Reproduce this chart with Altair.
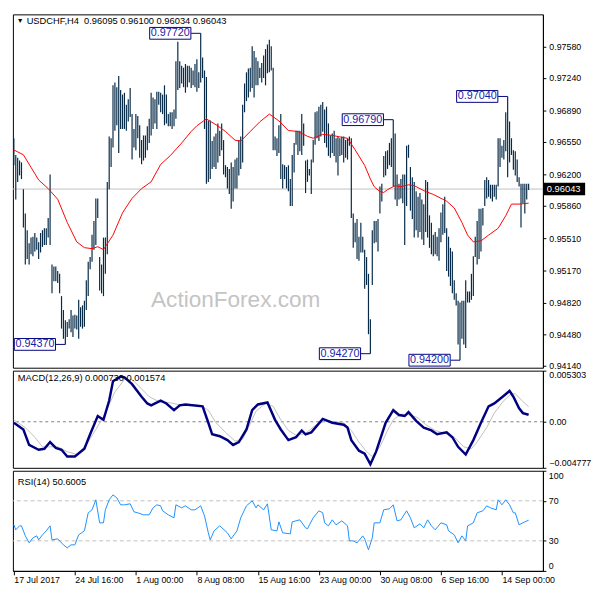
import altair as alt
import pandas as pd

# ---------------- data ----------------
bar_high = [
    0.9659, 0.9641, 0.9638, 0.9635, 0.9633, 0.9604, 0.9578, 0.9560, 0.9546, 0.9552,
    0.9553, 0.9557, 0.9552, 0.9547, 0.9557, 0.9560, 0.9562, 0.9562, 0.9573, 0.9620,
    0.9523, 0.9521, 0.9521, 0.9516, 0.9513, 0.9489, 0.9474, 0.9463, 0.9461, 0.9464,
    0.9474, 0.9468, 0.9469, 0.9468, 0.9485, 0.9477, 0.9479, 0.9484, 0.9506, 0.9526,
    0.9531, 0.9555, 0.9570, 0.9594, 0.9594, 0.9531, 0.9523, 0.9552, 0.9552, 0.9612,
    0.9661, 0.9659, 0.9716, 0.9719, 0.9714, 0.9726, 0.9711, 0.9706, 0.9708, 0.9695,
    0.9701, 0.9713, 0.9685, 0.9669, 0.9685, 0.9683, 0.9673, 0.9657, 0.9662, 0.9662,
    0.9672, 0.9680, 0.9708, 0.9703, 0.9701, 0.9709, 0.9709, 0.9708, 0.9706, 0.9716,
    0.9706, 0.9685, 0.9687, 0.9687, 0.9690, 0.9742, 0.9763, 0.9742, 0.9737, 0.9735,
    0.9739, 0.9737, 0.9737, 0.9735, 0.9732, 0.9739, 0.9744, 0.9730, 0.9772, 0.9746,
    0.9732, 0.9725, 0.9678, 0.9678, 0.9656, 0.9661, 0.9664, 0.9675, 0.9667, 0.9675,
    0.9657, 0.9630, 0.9628, 0.9626, 0.9633, 0.9628, 0.9636, 0.9638, 0.9657, 0.9661,
    0.9695, 0.9718, 0.9730, 0.9734, 0.9735, 0.9758, 0.9753, 0.9746, 0.9742, 0.9735,
    0.9740, 0.9748, 0.9755, 0.9760, 0.9765, 0.9758, 0.9735, 0.9661, 0.9659, 0.9673,
    0.9685, 0.9631, 0.9630, 0.9628, 0.9630, 0.9615, 0.9641, 0.9654, 0.9667, 0.9667,
    0.9667, 0.9685, 0.9675, 0.9635, 0.9636, 0.9626, 0.9636, 0.9657, 0.9687, 0.9688,
    0.9693, 0.9695, 0.9698, 0.9690, 0.9693, 0.9675, 0.9662, 0.9664, 0.9667, 0.9659,
    0.9661, 0.9659, 0.9661, 0.9661, 0.9657, 0.9659, 0.9661, 0.9659, 0.9578, 0.9568,
    0.9572, 0.9553, 0.9568, 0.9553, 0.9539, 0.9531, 0.9513, 0.9464, 0.9560, 0.9570,
    0.9570, 0.9572, 0.9607, 0.9610, 0.9640, 0.9645, 0.9646, 0.9654, 0.9659, 0.9679,
    0.9664, 0.9620, 0.9610, 0.9615, 0.9620, 0.9620, 0.9651, 0.9652, 0.9628, 0.9617,
    0.9612, 0.9602, 0.9596, 0.9600, 0.9593, 0.9588, 0.9614, 0.9612, 0.9576, 0.9568,
    0.9555, 0.9558, 0.9553, 0.9562, 0.9579, 0.9588, 0.9596, 0.9562, 0.9553, 0.9541,
    0.9537, 0.9506, 0.9492, 0.9484, 0.9482, 0.9484, 0.9484, 0.9506, 0.9494, 0.9494,
    0.9513, 0.9532, 0.9553, 0.9570, 0.9583, 0.9583, 0.9584, 0.9614, 0.9617, 0.9614,
    0.9609, 0.9609, 0.9609, 0.9609, 0.9659, 0.9659, 0.9651, 0.9657, 0.9687, 0.9704,
    0.9677, 0.9659, 0.9646, 0.9645, 0.9636, 0.9617, 0.9610, 0.9610, 0.9610, 0.9610,
    0.9610,
]
bar_low = [
    0.9630, 0.9593, 0.9612, 0.9619, 0.9615, 0.9563, 0.9523, 0.9529, 0.9523, 0.9534,
    0.9532, 0.9537, 0.9539, 0.9529, 0.9536, 0.9542, 0.9544, 0.9544, 0.9552, 0.9544,
    0.9492, 0.9505, 0.9505, 0.9503, 0.9492, 0.9454, 0.9443, 0.9437, 0.9445, 0.9454,
    0.9450, 0.9445, 0.9454, 0.9453, 0.9443, 0.9456, 0.9454, 0.9456, 0.9474, 0.9489,
    0.9518, 0.9526, 0.9539, 0.9544, 0.9573, 0.9495, 0.9492, 0.9489, 0.9513, 0.9534,
    0.9604, 0.9628, 0.9649, 0.9667, 0.9673, 0.9643, 0.9669, 0.9669, 0.9669, 0.9667,
    0.9677, 0.9682, 0.9636, 0.9649, 0.9646, 0.9659, 0.9638, 0.9631, 0.9635, 0.9638,
    0.9646, 0.9654, 0.9662, 0.9669, 0.9675, 0.9669, 0.9695, 0.9687, 0.9685, 0.9673,
    0.9675, 0.9672, 0.9672, 0.9669, 0.9672, 0.9680, 0.9711, 0.9713, 0.9718, 0.9714,
    0.9708, 0.9714, 0.9719, 0.9713, 0.9716, 0.9714, 0.9709, 0.9713, 0.9719, 0.9724,
    0.9669, 0.9610, 0.9612, 0.9615, 0.9626, 0.9628, 0.9626, 0.9633, 0.9640, 0.9646,
    0.9620, 0.9617, 0.9605, 0.9599, 0.9583, 0.9591, 0.9605, 0.9605, 0.9619, 0.9626,
    0.9633, 0.9687, 0.9699, 0.9703, 0.9709, 0.9713, 0.9703, 0.9716, 0.9716, 0.9724,
    0.9719, 0.9724, 0.9716, 0.9729, 0.9730, 0.9732, 0.9646, 0.9646, 0.9640, 0.9643,
    0.9615, 0.9605, 0.9615, 0.9605, 0.9602, 0.9586, 0.9586, 0.9622, 0.9652, 0.9641,
    0.9645, 0.9641, 0.9651, 0.9600, 0.9612, 0.9619, 0.9599, 0.9633, 0.9652, 0.9659,
    0.9656, 0.9661, 0.9666, 0.9654, 0.9649, 0.9640, 0.9638, 0.9643, 0.9640, 0.9633,
    0.9619, 0.9640, 0.9641, 0.9633, 0.9638, 0.9636, 0.9651, 0.9573, 0.9541, 0.9547,
    0.9529, 0.9527, 0.9536, 0.9536, 0.9497, 0.9501, 0.9448, 0.9427, 0.9501, 0.9546,
    0.9547, 0.9537, 0.9578, 0.9591, 0.9617, 0.9619, 0.9626, 0.9630, 0.9628, 0.9607,
    0.9593, 0.9586, 0.9593, 0.9594, 0.9589, 0.9544, 0.9586, 0.9638, 0.9581, 0.9572,
    0.9552, 0.9560, 0.9552, 0.9558, 0.9550, 0.9544, 0.9558, 0.9552, 0.9541, 0.9534,
    0.9532, 0.9534, 0.9532, 0.9527, 0.9547, 0.9555, 0.9557, 0.9516, 0.9510, 0.9500,
    0.9492, 0.9485, 0.9479, 0.9437, 0.9420, 0.9443, 0.9437, 0.9433, 0.9482, 0.9482,
    0.9485, 0.9489, 0.9531, 0.9523, 0.9529, 0.9537, 0.9565, 0.9586, 0.9594, 0.9596,
    0.9594, 0.9591, 0.9596, 0.9593, 0.9607, 0.9628, 0.9638, 0.9636, 0.9645, 0.9617,
    0.9633, 0.9641, 0.9625, 0.9619, 0.9612, 0.9607, 0.9563, 0.9589, 0.9578, 0.9593,
    0.96034,
]

ma_idx = [0, 5, 9, 13, 18, 23, 28, 33, 37, 41, 44, 47, 52, 57, 62, 67, 72, 77, 82, 88,
          93, 96, 101, 106, 111, 116, 119, 124, 129, 134, 139, 144, 149, 154, 157, 162,
          167, 172, 175, 179, 184, 187, 189, 192, 194, 196, 200, 203, 207, 210, 216, 220,
          225, 227, 231, 235, 238, 241, 245, 249, 254, 258, 261, 265, 270]
ma_val = [0.96464, 0.96412, 0.96277, 0.96141, 0.96048, 0.95933, 0.95683, 0.95474, 0.95412,
          0.95401, 0.95422, 0.95391, 0.95547, 0.95787, 0.95943, 0.96048, 0.96121, 0.96308,
          0.96402, 0.96538, 0.96663, 0.96725, 0.96798, 0.96736, 0.96663, 0.96569, 0.96559,
          0.96663, 0.96767, 0.96850, 0.96777, 0.96673, 0.96663, 0.96611, 0.96590, 0.96632,
          0.96621, 0.96600, 0.96590, 0.96465, 0.96298, 0.96152, 0.96068, 0.96016, 0.96006,
          0.96037, 0.96079, 0.96068, 0.96089, 0.96079, 0.96016, 0.95985, 0.95933, 0.95912,
          0.95839, 0.95683, 0.95547, 0.95474, 0.95485, 0.95547, 0.95620, 0.95756, 0.95881,
          0.95881, 0.95891]

macd_idx = [0, 5, 8, 13, 16, 19, 22, 25, 28, 32, 37, 40, 44, 47, 50, 52, 56, 58, 62, 67,
            70, 72, 77, 80, 84, 87, 90, 99, 102, 104, 108, 112, 115, 118, 122, 125, 128,
            133, 137, 140, 144, 148, 151, 153, 156, 162, 167, 173, 175, 177, 181, 184, 187,
            190, 195, 199, 202, 205, 207, 211, 215, 219, 222, 227, 230, 233, 237, 241, 245,
            249, 252, 257, 260, 262, 265, 267, 270]
macd_val = [-0.0001, -0.0008, -0.0024, -0.0029, -0.0028, -0.0021, -0.0027, -0.0029, -0.0036,
            -0.0036, -0.0028, -0.0013, 0.0006, 0.0002, 0.0022, 0.0042, 0.0047, 0.0046, 0.0039,
            0.0026, 0.0019, 0.0017, 0.0022, 0.0019, 0.0012, 0.0017, 0.0018, 0.0016, -0.0001,
            -0.0013, -0.0015, -0.0019, -0.0024, -0.0021, -0.0008, 0.0012, 0.0018, 0.0020,
            0.0002, -0.0008, -0.0019, -0.0016, -0.0009, -0.0013, -0.0011, 0.0003, -0.0001,
            -0.0003, -0.0006, -0.0019, -0.0030, -0.0033, -0.0044, -0.0031, -0.0001, 0.0012,
            0.0007, 0.0006, 0.0010, 0.0001, -0.0006, -0.0009, -0.0013, -0.0011, -0.0016,
            -0.0026, -0.0034, -0.0019, -0.0001, 0.0016, 0.0019, 0.0027, 0.0032, 0.0026,
            0.0014, 0.0009, 0.00073]

sig_idx = [0, 6, 11, 15, 18, 23, 28, 33, 38, 43, 48, 53, 58, 62, 67, 71, 76, 81, 86, 91,
           98, 102, 106, 111, 116, 120, 123, 127, 132, 136, 140, 144, 148, 153, 158, 163,
           168, 173, 177, 181, 185, 188, 192, 196, 199, 203, 208, 212, 216, 221, 226, 231,
           236, 240, 243, 248, 252, 257, 261, 263, 267, 270]
sig_val = [0.0002, -0.0006, -0.0016, -0.0026, -0.0026, -0.0026, -0.0031, -0.0034, -0.0024,
           -0.0008, 0.0009, 0.0031, 0.0044, 0.0044, 0.0034, 0.0026, 0.0021, 0.0020, 0.0018,
           0.0018, 0.0017, 0.0012, -0.0001, -0.0011, -0.0020, -0.0018, -0.0006, 0.0011,
           0.0019, 0.0016, 0.0002, -0.0009, -0.0014, -0.0012, -0.0004, 0.0001, 0.0000,
           -0.0001, -0.0009, -0.0021, -0.0031, -0.0036, -0.0026, -0.0009, 0.0002, 0.0008,
           0.0007, 0.0004, -0.0003, -0.0009, -0.0012, -0.0016, -0.0026, -0.0028, -0.0021,
           -0.0006, 0.0009, 0.0022, 0.0029, 0.0029, 0.0021, 0.001574]

rsi_idx = [0, 1, 3, 4, 6, 8, 10, 12, 13, 15, 17, 19, 20, 23, 26, 28, 30, 32, 34, 37, 39,
           41, 43, 45, 47, 48, 50, 52, 54, 56, 58, 61, 63, 65, 68, 71, 73, 75, 77, 78, 81,
           84, 85, 88, 90, 93, 95, 98, 100, 102, 103, 105, 108, 112, 114, 117, 119, 122,
           125, 127, 128, 131, 133, 135, 138, 139, 141, 145, 146, 148, 150, 153, 154, 157,
           160, 162, 163, 165, 167, 169, 172, 175, 176, 178, 180, 183, 184, 186, 188, 189,
           192, 194, 197, 199, 201, 203, 206, 208, 210, 213, 215, 217, 219, 221, 224, 227,
           228, 231, 233, 235, 237, 238, 241, 243, 246, 248, 250, 253, 254, 256, 258, 260,
           262, 263, 265, 268, 270]
rsi_val = [46, 41, 45, 45, 35, 28, 33, 35, 31, 36, 40, 45, 31, 32, 26, 23, 26, 26, 36, 40,
           58, 61, 71, 48, 48, 61, 71, 76, 73, 66, 66, 67, 59, 58, 56, 56, 63, 66, 65, 60,
           56, 53, 66, 63, 65, 61, 61, 65, 55, 38, 31, 40, 45, 38, 32, 40, 53, 65, 70, 63,
           66, 61, 67, 41, 40, 49, 38, 37, 49, 50, 51, 43, 42, 53, 60, 58, 48, 45, 51, 46,
           50, 45, 30, 30, 28, 35, 32, 21, 33, 48, 48, 61, 62, 66, 50, 51, 60, 53, 43, 47,
           43, 51, 45, 41, 48, 46, 40, 36, 28, 35, 30, 45, 48, 58, 60, 65, 63, 61, 71, 66,
           71, 66, 58, 58, 46, 49, 50.6]

price_ticks = [0.97580, 0.97240, 0.96890, 0.96550, 0.96200, 0.95860,
               0.95510, 0.95170, 0.94820, 0.94480, 0.94140]
rsi_ticks = [100, 70, 30, 0]
rsi_tick_text = ["100", "70", "30", "0"]
x_ticks = [0, 32, 64, 96, 128, 160, 192, 224, 256]
x_labels = ["17 Jul 2017", "24 Jul 16:00", "1 Aug 00:00", "8 Aug 08:00", "15 Aug 16:00",
            "23 Aug 00:00", "30 Aug 08:00", "6 Sep 16:00", "14 Sep 00:00"]

ann_idx = [27, 98, 187, 199, 234, 259]
ann_price = [0.94370, 0.97720, 0.94270, 0.96790, 0.94200, 0.97040]
ann_label = ["0.94370", "0.97720", "0.94270", "0.96790", "0.94200", "0.97040"]

last_price = 0.96043
header = "USDCHF,H4 \u00a00.96095 0.96100 0.96034 0.96043"
macd_title = "MACD(12,26,9) 0.000730 0.001574"
rsi_title = "RSI(14) 50.6005"
watermark = "ActionForex.com"

# ---------------- styling ----------------
W = 540
H_MAIN, H_MACD, H_RSI = 360, 99, 102
FONT = "Liberation Sans"
BAR_COLOR = "#062a47"
NAVY = "#000080"
BOX42 = "M-1,-0.2857L1,-0.2857L1,0.2857L-1,0.2857Z"
BOX41 = "M-1,-0.3L1,-0.3L1,0.3L-1,0.3Z"

xs = alt.Scale(domain=[-0.5, 277.5], nice=False, zero=False)
xnone = dict(scale=xs, axis=None)

ys_main = alt.Scale(domain=[0.94119, 0.97924], nice=False, zero=False)
ax_main = alt.Axis(orient="right", values=price_ticks, format=".5f", title=None,
                   labelOverlap=False)

bars = pd.DataFrame({"idx": list(range(len(bar_high))), "high": bar_high, "low": bar_low})
ma = pd.DataFrame({"idx": ma_idx, "val": ma_val})
ann = pd.DataFrame({"idx": ann_idx, "price": ann_price, "lbl": ann_label})
cur = pd.DataFrame({"p": [last_price], "lbl": [f"{last_price:.5f}"]})


def txt(t):
    return pd.DataFrame({"t": [t]})


wm = alt.Chart(txt(watermark)).mark_text(
    font=FONT, fontSize=23, color="#c4c4c4", align="center", baseline="middle"
).encode(x=alt.value(227), y=alt.value(291), text="t:N")

cur_line = alt.Chart(cur).mark_rule(color="#c0c0c0", strokeWidth=1).encode(
    y=alt.Y("p:Q", scale=ys_main, axis=ax_main))

bar_layer = alt.Chart(bars).mark_rule(color=BAR_COLOR, strokeWidth=1.2).encode(
    x=alt.X("idx:Q", **xnone),
    y=alt.Y("low:Q", scale=ys_main, axis=ax_main),
    y2="high:Q")

ma_layer = alt.Chart(ma).mark_line(color="#ff0000", strokeWidth=1).encode(
    x=alt.X("idx:Q", **xnone),
    y=alt.Y("val:Q", scale=ys_main, axis=ax_main))

ann_rule = alt.Chart(ann).transform_calculate(x2="datum.idx - 5").mark_rule(
    color=NAVY, strokeWidth=1).encode(
    x=alt.X("idx:Q", **xnone), x2="x2:Q",
    y=alt.Y("price:Q", scale=ys_main, axis=ax_main))

ann_box = alt.Chart(ann).mark_point(
    shape=BOX42, size=42 * 42, filled=True, fill="white", stroke=NAVY,
    strokeWidth=1, opacity=1, fillOpacity=1, xOffset=-31
).encode(x=alt.X("idx:Q", **xnone), y=alt.Y("price:Q", scale=ys_main, axis=ax_main))

ann_text = alt.Chart(ann).mark_text(
    font=FONT, fontSize=11, color="#1c1caa", align="center", baseline="middle", dx=-31
).encode(x=alt.X("idx:Q", **xnone), y=alt.Y("price:Q", scale=ys_main, axis=ax_main),
         text="lbl:N")

cur_box = alt.Chart(cur).mark_point(
    shape=BOX41, size=42 * 42, filled=True, color="black", opacity=1
).encode(x=alt.value(W + 22), y=alt.Y("p:Q", scale=ys_main, axis=ax_main))

cur_text = alt.Chart(cur).mark_text(
    font=FONT, fontSize=9.5, color="white", align="left", baseline="middle"
).encode(x=alt.value(W + 4), y=alt.Y("p:Q", scale=ys_main, axis=ax_main), text="lbl:N")

tri = alt.Chart(txt("\u25bc")).mark_text(
    fontSize=7, color="black", align="left", baseline="middle"
).encode(x=alt.value(4), y=alt.value(7), text="t:N")

head = alt.Chart(txt(header)).mark_text(
    font=FONT, fontSize=9.5, color="black", align="left", baseline="middle"
).encode(x=alt.value(14), y=alt.value(7), text="t:N")

main = alt.layer(wm, cur_line, bar_layer, ma_layer, ann_rule, ann_box, ann_text,
                 cur_box, cur_text, tri, head).properties(width=W, height=H_MAIN)

# ---------------- MACD ----------------
ys_macd = alt.Scale(domain=[-0.004777, 0.005303], nice=False, zero=False)
ax_macd = alt.Axis(orient="right", values=[0.005303, 0, -0.004777], labelFlush=True,
                   labelExpr="datum.value == 0 ? '0.00' : format(datum.value, '.6f')",
                   title=None, labelOverlap=False)
macd_df = pd.DataFrame({"idx": macd_idx, "v": macd_val})
sig_df = pd.DataFrame({"idx": sig_idx, "v": sig_val})

zero = alt.Chart(pd.DataFrame({"v": [0.0]})).mark_rule(
    color="#808080", strokeDash=[3, 3], strokeWidth=1).encode(
    y=alt.Y("v:Q", scale=ys_macd, axis=ax_macd))
sig_line = alt.Chart(sig_df).mark_line(color="#c0c0c0", strokeWidth=1).encode(
    x=alt.X("idx:Q", **xnone), y=alt.Y("v:Q", scale=ys_macd, axis=ax_macd))
macd_line = alt.Chart(macd_df).mark_line(color=NAVY, strokeWidth=2.5).encode(
    x=alt.X("idx:Q", **xnone), y=alt.Y("v:Q", scale=ys_macd, axis=ax_macd))
macd_lbl = alt.Chart(txt(macd_title)).mark_text(
    font=FONT, fontSize=9.5, color="black", align="left", baseline="middle"
).encode(x=alt.value(5), y=alt.value(8), text="t:N")

macd = alt.layer(zero, sig_line, macd_line, macd_lbl).properties(width=W, height=H_MACD)

# ---------------- RSI ----------------
ys_rsi = alt.Scale(domain=[0, 100], nice=False, zero=False)
ax_rsi = alt.Axis(orient="right", values=rsi_ticks, labels=False, title=None)
label_arr = "[" + ",".join(f"'{s}'" for s in x_labels) + "]"
ax_x = alt.Axis(values=x_ticks, labelExpr=f"{label_arr}[round(datum.value / 32)]",
                tickSize=4, labelAlign="left", labelBaseline="top", labelPadding=1,
                title=None, labelOverlap=False)
xr = dict(scale=xs, axis=ax_x)
rsi_df = pd.DataFrame({"idx": rsi_idx, "v": rsi_val})
rsi_tick_df = pd.DataFrame({"tv": rsi_ticks, "lbl": rsi_tick_text})

levels = alt.Chart(pd.DataFrame({"v": [70, 30]})).mark_rule(
    color="#c0c0c0", strokeDash=[4, 3], strokeWidth=1).encode(
    y=alt.Y("v:Q", scale=ys_rsi, axis=ax_rsi))
rsi_line = alt.Chart(rsi_df).mark_line(color="#1e90ff", strokeWidth=1).encode(
    x=alt.X("idx:Q", **xr), y=alt.Y("v:Q", scale=ys_rsi, axis=ax_rsi))
rsi_lbl = alt.Chart(txt(rsi_title)).mark_text(
    font=FONT, fontSize=9.5, color="black", align="left", baseline="middle"
).encode(x=alt.value(5), y=alt.value(11), text="t:N")

# tick labels of the RSI scale; the edge ones are nudged inside the panel
rsi_tick_lbl = alt.Chart(rsi_tick_df).transform_calculate(
    pos="datum.tv >= 100 ? 95 : (datum.tv <= 0 ? 5 : datum.tv)"
).mark_text(
    font=FONT, fontSize=9, color="black", align="left", baseline="middle"
).encode(x=alt.value(W + 6), y=alt.Y("pos:Q", scale=ys_rsi, axis=ax_rsi), text="lbl:N")

rsi = alt.layer(levels, rsi_line, rsi_lbl, rsi_tick_lbl).properties(
    width=W, height=H_RSI)

chart = alt.vconcat(main, macd, rsi, spacing=3, bounds="flush").properties(
    padding=0
).configure_view(
    stroke="black", strokeWidth=1
).configure_axis(
    labelFont=FONT, labelFontSize=9, labelColor="black", tickColor="black",
    domainColor="black", grid=False, tickSize=3, labelPadding=3
)

chart.save("out.html", embed_options={"renderer": "svg", "actions": False})
